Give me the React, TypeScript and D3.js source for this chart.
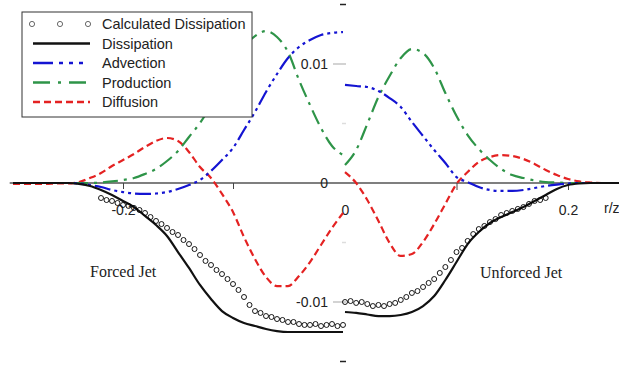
import React, { useEffect, useRef } from "react";
import * as d3 from "d3";

// r/z positions of the sampled profiles
const rLeft = [-0.30, -0.29, -0.28, -0.27, -0.26, -0.25, -0.24, -0.23, -0.22, -0.21, -0.20,
  -0.19, -0.18, -0.17, -0.16, -0.15, -0.14, -0.13, -0.12, -0.11, -0.10,
  -0.09, -0.08, -0.07, -0.06, -0.05, -0.04, -0.03, -0.02, -0.01, 0];
const rRight = [0, 0.01, 0.02, 0.03, 0.04, 0.05, 0.06, 0.07, 0.08, 0.09, 0.10, 0.11, 0.12,
  0.13, 0.14, 0.15, 0.16, 0.17, 0.18, 0.19, 0.20, 0.21, 0.22, 0.23, 0.24, 0.25];

// Forced jet (left half)
const dissLeft = [0, 0, 0, 0, 0, 0, -0.00008, -0.00025, -0.00059, -0.00101, -0.00151,
  -0.00202, -0.00277, -0.00353, -0.00445, -0.00580, -0.00714, -0.00857, -0.00975, -0.01076, -0.01134,
  -0.01176, -0.01202, -0.01227, -0.01244, -0.01252, -0.01252, -0.01252, -0.01252, -0.01252, -0.01252];
const advLeft = [0, 0, 0, 0, 0, 0, -0.00004, -0.00017, -0.00034, -0.00059, -0.00076,
  -0.00088, -0.00092, -0.00088, -0.00076, -0.00050, -0.00017, 0.00025, 0.00101, 0.00193, 0.00294,
  0.00445, 0.00597, 0.00765, 0.00916, 0.01050, 0.01143, 0.01202, 0.01244, 0.01261, 0.01269];
const prodLeft = [0, 0, 0, 0, 0, 0, 0, 0, 0.00004, 0.00013, 0.00025,
  0.00042, 0.00076, 0.00118, 0.00185, 0.00269, 0.00387, 0.00504, 0.00655, 0.00849, 0.01025,
  0.01151, 0.01235, 0.01277, 0.01227, 0.01101, 0.00866, 0.00655, 0.00462, 0.00311, 0.00235];
const diffLeft = [-0.00008, -0.00008, -0.00008, -0.00008, -0.00004, -0.00004, 0.00008, 0.00042, 0.00084, 0.00143, 0.00193,
  0.00244, 0.00303, 0.00353, 0.00378, 0.00353, 0.00261, 0.00134, 0.00042, -0.00092, -0.00244,
  -0.00454, -0.00639, -0.00790, -0.00866, -0.00866, -0.00782, -0.00664, -0.00521, -0.00378, -0.00252];

// Unforced jet (right half)
const dissRight = [-0.01084, -0.01092, -0.01105, -0.01118, -0.01118, -0.01109, -0.01084, -0.01034, -0.00950, -0.00815,
  -0.00664, -0.00513, -0.00412, -0.00336, -0.00286, -0.00244, -0.00202, -0.00151, -0.00101, -0.00050,
  -0.00017, -0.00004, 0, 0, 0, 0];
const advRight = [0.00824, 0.00815, 0.00807, 0.00773, 0.00714, 0.00639, 0.00513, 0.00395, 0.00277, 0.00168,
  0.00050, 0.00008, -0.00034, -0.00059, -0.00067, -0.00067, -0.00059, -0.00042, -0.00025, -0.00013,
  -0.00004, 0, 0, 0, 0, 0];
const prodRight = [0.00151, 0.00277, 0.00496, 0.00723, 0.00899, 0.01050, 0.01126, 0.01092, 0.00966, 0.00756,
  0.00563, 0.00403, 0.00286, 0.00193, 0.00118, 0.00067, 0.00042, 0.00021, 0.00008, 0.00004,
  0, 0, 0, 0, 0, 0];
const diffRight = [0.00092, 0.00000, -0.00143, -0.00319, -0.00504, -0.00613, -0.00597, -0.00496, -0.00345, -0.00176,
  -0.00008, 0.00092, 0.00176, 0.00218, 0.00235, 0.00227, 0.00202, 0.00160, 0.00109, 0.00067,
  0.00034, 0.00013, 0.00004, 0, 0, 0];

// calculated dissipation (open circles)
const calcLeftR = [-0.220, -0.215, -0.210, -0.205, -0.200, -0.195, -0.190, -0.185, -0.180, -0.175,
  -0.170, -0.165, -0.160, -0.155, -0.150, -0.145, -0.140, -0.135, -0.130, -0.125,
  -0.120, -0.115, -0.110, -0.105, -0.100, -0.095, -0.090, -0.085, -0.080, -0.075,
  -0.070, -0.065, -0.060, -0.055, -0.050, -0.045, -0.040, -0.035, -0.030, -0.025,
  -0.020, -0.015, -0.010, -0.005, 0];
const calcLeft = [-0.00126, -0.00143, -0.00151, -0.00168, -0.00185, -0.00193, -0.00210, -0.00227, -0.00252, -0.00286,
  -0.00319, -0.00345, -0.00378, -0.00412, -0.00437, -0.00479, -0.00513, -0.00555, -0.00605, -0.00655,
  -0.00689, -0.00731, -0.00765, -0.00807, -0.00849, -0.00899, -0.00958, -0.01025, -0.01076, -0.01092,
  -0.01118, -0.01126, -0.01143, -0.01151, -0.01168, -0.01168, -0.01185, -0.01193, -0.01193, -0.01185,
  -0.01202, -0.01193, -0.01185, -0.01202, -0.01193];
const calcRightR = [0, 0.005, 0.010, 0.015, 0.020, 0.025, 0.030, 0.035, 0.040, 0.045,
  0.050, 0.055, 0.060, 0.065, 0.070, 0.075, 0.080, 0.085, 0.090, 0.095,
  0.100, 0.105, 0.110, 0.115, 0.120, 0.125, 0.130, 0.135, 0.140, 0.145,
  0.150, 0.155, 0.160, 0.165, 0.170, 0.175, 0.180];
const calcRight = [-0.01000, -0.00992, -0.01008, -0.01000, -0.01017, -0.01034, -0.01025, -0.01034, -0.01017, -0.01008,
  -0.00983, -0.00958, -0.00924, -0.00908, -0.00874, -0.00840, -0.00807, -0.00756, -0.00706, -0.00647,
  -0.00580, -0.00546, -0.00487, -0.00429, -0.00387, -0.00361, -0.00328, -0.00303, -0.00269, -0.00252,
  -0.00235, -0.00218, -0.00202, -0.00176, -0.00151, -0.00143, -0.00126];

const legendLabels = ["Calculated Dissipation", "Dissipation", "Advection", "Production", "Diffusion"];
const yTickValues = [0.015, 0.01, 0.005, 0, -0.005, -0.01, -0.015];
const yTickLabels = { "0.01": "0.01", "0": "0", "-0.01": "-0.01" };

const BLACK = "#111";
const BLUE = "#1414d2";
const GREEN = "#2e9448";
const RED = "#e42222";
const SANS = "Liberation Sans, Arial, sans-serif";
const SERIF = "Liberation Serif, Times New Roman, serif";

export default function App() {
  const ref = useRef<SVGSVGElement>(null);

  useEffect(() => {
    const svg = d3.select(ref.current);
    svg.selectAll("*").remove();

    const xL = d3.scaleLinear().domain([-0.2, 0]).range([123, 343]);
    const xR = d3.scaleLinear().domain([0, 0.2]).range([345, 568]);
    const y = d3.scaleLinear().domain([-0.01, 0.01]).range([302, 64]);

    // horizontal axis line
    svg.append("line")
      .attr("x1", xL(-0.303)).attr("x2", 619)
      .attr("y1", y(0)).attr("y2", y(0))
      .attr("stroke", "#555").attr("stroke-width", 1.6);

    // x ticks
    const xAxisL = svg.append("g")
      .attr("transform", `translate(0,${y(0)})`)
      .call(d3.axisBottom(xL).tickValues([-0.2, -0.1]).tickSize(6).tickPadding(16)
        .tickFormat(d => (d === -0.2 ? "-0.2" : "")));
    const xAxisR = svg.append("g")
      .attr("transform", `translate(0,${y(0)})`)
      .call(d3.axisBottom(xR).tickValues([0, 0.1, 0.2]).tickSize(7).tickPadding(15)
        .tickFormat(d => (d === 0 ? "0" : d === 0.2 ? "0.2" : "")));
    [xAxisL, xAxisR].forEach(g => {
      g.select(".domain").remove();
      g.selectAll(".tick line").attr("stroke", "#444");
      g.selectAll(".tick text").attr("font-family", SANS).attr("font-size", 14).attr("fill", "#222");
    });
    xAxisR.selectAll(".tick").filter(d => d === 0).select("line").remove();

    svg.append("text")
      .attr("x", 604).attr("y", 213)
      .attr("font-family", SANS).attr("font-size", 14).attr("fill", "#222")
      .text("r/z");

    // y ticks and labels
    svg.append("g")
      .selectAll("line")
      .data(yTickValues.filter(d => d !== 0))
      .join("line")
        .attr("x1", d => (Math.abs(d) > 0.012 ? 340 : Math.abs(d) > 0.007 ? 333 : 342))
        .attr("x2", 346)
        .attr("y1", d => y(d)).attr("y2", d => y(d))
        .attr("stroke", d => (Math.abs(d) > 0.012 ? "#222" : Math.abs(d) > 0.007 ? "#c4c4c4" : "#ddd"))
        .attr("stroke-width", 1.5);

    const yAxis = svg.append("g")
      .attr("transform", "translate(345,0)")
      .call(d3.axisLeft(y).tickValues([0.01, 0, -0.01]).tickSize(0).tickPadding(17)
        .tickFormat(d => yTickLabels[String(d)]));
    yAxis.select(".domain").remove();
    yAxis.selectAll(".tick text").attr("font-family", SANS).attr("font-size", 14).attr("fill", "#222");

    // profiles
    const series = [
      { r: rLeft, v: diffLeft, x: xL, color: RED, dash: "7 4" },
      { r: rRight, v: diffRight, x: xR, color: RED, dash: "7 4" },
      { r: rLeft, v: prodLeft, x: xL, color: GREEN, dash: "15 6 3 6" },
      { r: rRight, v: prodRight, x: xR, color: GREEN, dash: "15 6 3 6" },
      { r: rLeft, v: advLeft, x: xL, color: BLUE, dash: "16 4 3 4 3 4 3 4" },
      { r: rRight, v: advRight, x: xR, color: BLUE, dash: "16 4 3 4 3 4 3 4" },
      { r: rLeft, v: dissLeft, x: xL, color: BLACK, dash: null },
      { r: rRight, v: dissRight, x: xR, color: BLACK, dash: null },
    ];

    svg.append("g")
      .selectAll("path")
      .data(series)
      .join("path")
        .attr("fill", "none")
        .attr("stroke", d => d.color)
        .attr("stroke-width", 2.2)
        .attr("stroke-dasharray", d => d.dash)
        .attr("d", d => d3.line<number>()
          .x((_, i) => d.x(d.r[i]))
          .y(v => y(v))
          .curve(d3.curveMonotoneX)(d.v));

    // calculated dissipation circles
    const pts = [
      ...calcLeftR.map((r, i) => ({ cx: xL(r), cy: y(calcLeft[i]) })),
      ...calcRightR.map((r, i) => ({ cx: xR(r), cy: y(calcRight[i]) })),
    ];
    svg.append("g")
      .selectAll("circle")
      .data(pts)
      .join("circle")
        .attr("cx", d => d.cx)
        .attr("cy", d => d.cy)
        .attr("r", 2.5)
        .attr("fill", "none")
        .attr("stroke", "#000")
        .attr("stroke-width", 0.9);

    // annotations
    svg.append("text")
      .attr("x", 90).attr("y", 277)
      .attr("font-family", SERIF).attr("font-size", 16).attr("fill", "#222")
      .text("Forced Jet");
    svg.append("text")
      .attr("x", 480).attr("y", 278)
      .attr("font-family", SERIF).attr("font-size", 16).attr("fill", "#222")
      .text("Unforced Jet");

    // legend
    const lg = svg.append("g");
    lg.append("rect")
      .attr("x", 22).attr("y", 12).attr("width", 230).attr("height", 105)
      .attr("fill", "white").attr("stroke", "#333").attr("stroke-width", 1);

    const rowY = [24, 43.5, 63, 82.5, 102];
    lg.selectAll("text")
      .data(legendLabels)
      .join("text")
        .attr("x", 102)
        .attr("y", (_, i) => rowY[i])
        .attr("dy", "0.36em")
        .attr("font-family", SANS).attr("font-size", 14.5).attr("fill", "#222")
        .text(d => d);

    lg.selectAll("circle")
      .data([32, 60, 88])
      .join("circle")
        .attr("cx", d => d).attr("cy", rowY[0])
        .attr("r", 2.6)
        .attr("fill", "none").attr("stroke", "#444").attr("stroke-width", 0.8);

    const legendLines = [
      { color: BLACK, dash: null },
      { color: BLUE, dash: "20 6 4 6 4 6 4" },
      { color: GREEN, dash: "17 8 3 8 17" },
      { color: RED, dash: "7 4" },
    ];
    lg.selectAll("line")
      .data(legendLines)
      .join("line")
        .attr("x1", 33).attr("x2", 90)
        .attr("y1", (_, i) => rowY[i + 1]).attr("y2", (_, i) => rowY[i + 1])
        .attr("stroke", d => d.color)
        .attr("stroke-width", 2.4)
        .attr("stroke-dasharray", d => d.dash);
  }, []);

  return (
    <svg
      ref={ref}
      width={619}
      height={365}
      style={{ position: "absolute", left: 0, top: 0, background: "white" }}
    />
  );
}
